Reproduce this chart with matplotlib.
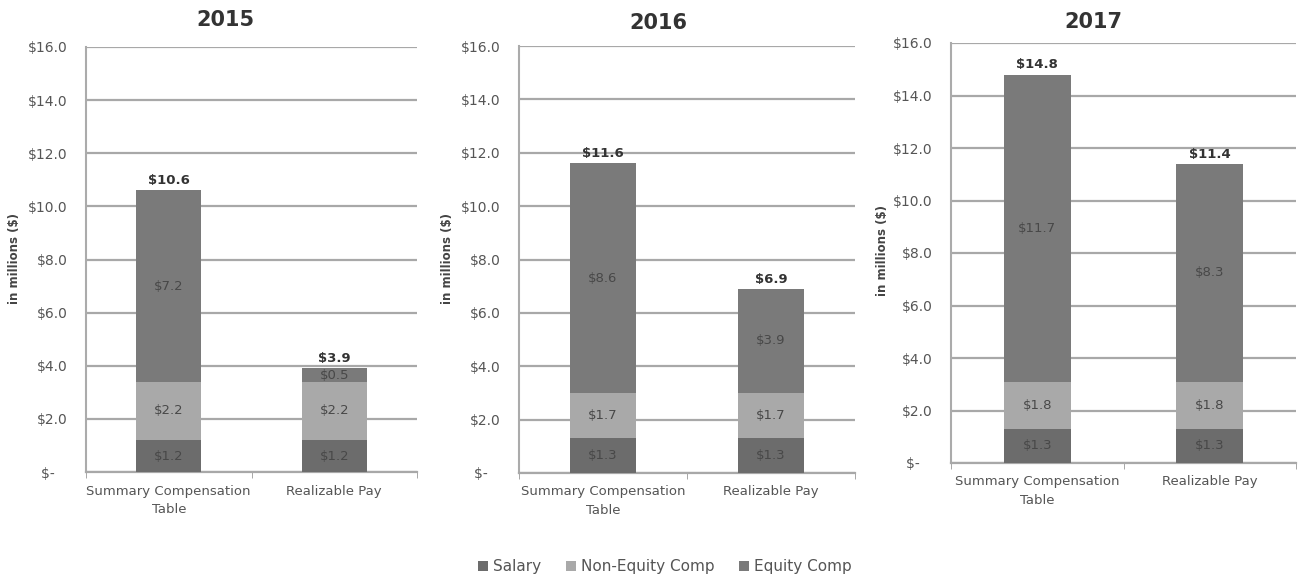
import matplotlib
matplotlib.use("Agg")
import matplotlib.pyplot as plt
import numpy as np
from matplotlib.patches import Patch

years = ["2015", "2016", "2017"]
categories = ["Summary Compensation\nTable", "Realizable Pay"]
series_names = ["Salary", "Non-Equity Comp", "Equity Comp"]
salary = [[1.2, 1.2], [1.3, 1.3], [1.3, 1.3]]
non_equity = [[2.2, 2.2], [1.7, 1.7], [1.8, 1.8]]
equity = [[7.2, 0.5], [8.6, 3.9], [11.7, 8.3]]
totals = [[10.6, 3.9], [11.6, 6.9], [14.8, 11.4]]
yticks = [0, 2, 4, 6, 8, 10, 12, 14, 16]
ytick_labels = ["$-   ", "$2.0", "$4.0", "$6.0", "$8.0", "$10.0", "$12.0", "$14.0", "$16.0"]

colors = ["#6c6c6c", "#a9a9a9", "#7a7a7a"]

W, H = 1301, 579
fig = plt.figure(figsize=(W / 100, H / 100), dpi=100)
fig.patch.set_facecolor("white")

# pixel boxes: (left, top, right, bottom)
boxes = [(86, 47, 417, 472), (519, 46, 855, 473), (951, 43, 1296, 463)]
title_pos = [(225, 20), (658, 23), (1093, 22)]
ylabel_pos = [(15, 259), (447, 258), (883, 250)]

for i, yr in enumerate(years):
    l, t, r, b = boxes[i]
    ax = fig.add_axes([l / W, 1 - b / H, (r - l) / W, (b - t) / H])
    x = np.arange(len(categories))
    bottoms = np.zeros(len(categories))
    for vals, col in zip([salary[i], non_equity[i], equity[i]], colors):
        vals = np.array(vals)
        ax.bar(x, vals, 0.39, bottom=bottoms, color=col, zorder=3)
        for xi, v, bo in zip(x, vals, bottoms):
            ax.text(xi, bo + v / 2, f"${v:.1f}", ha="center", va="center",
                    fontsize=9.5, color="#484848", zorder=4)
        bottoms = bottoms + vals
    for xi, tot in zip(x, totals[i]):
        ax.text(xi, tot + 0.12, f"${tot:.1f}", ha="center", va="bottom",
                fontsize=9.5, fontweight="bold", color="#333333", zorder=4)
    ax.set_xlim(-0.5, 1.5)
    ax.set_ylim(0, 16)
    ax.set_yticks(yticks)
    ax.set_yticklabels(ytick_labels, fontsize=10, color="#555555")
    ax.set_xticks(x)
    ax.set_xticklabels(categories, fontsize=9.5, color="#555555", linespacing=1.55)
    ax.tick_params(axis="x", which="major", length=0, pad=9)
    ax.set_xticks([-0.5, 0.5, 1.5], minor=True)
    ax.tick_params(axis="x", which="minor", length=4, color="#999999", direction="out")
    ax.tick_params(axis="y", length=0, pad=13)
    ax.yaxis.grid(True, color="#a8a8a8", linewidth=1.6, zorder=0)
    for s in ["top", "right"]:
        ax.spines[s].set_visible(False)
    ax.spines["left"].set_color("#ababab")
    ax.spines["left"].set_linewidth(1.5)
    ax.spines["bottom"].set_color("#a8a8a8")
    ax.spines["bottom"].set_linewidth(1.6)
    fig.text(title_pos[i][0] / W, 1 - title_pos[i][1] / H, yr, ha="center", va="center",
             fontsize=15, fontweight="bold", color="#333333")
    fig.text(ylabel_pos[i][0] / W, 1 - ylabel_pos[i][1] / H, "in millions ($)", rotation=90,
             ha="center", va="center", fontsize=8.5, fontweight="bold", color="#444444")

handles = [Patch(facecolor=c, edgecolor="none") for c in colors]
fig.legend(handles, series_names, loc="center", bbox_to_anchor=(665 / W, 1 - 567 / H),
           ncol=3, frameon=False, fontsize=11, handlelength=0.65, handleheight=0.65,
           handletextpad=0.35, columnspacing=1.6, labelcolor="#555555")

fig.savefig("out.png", dpi=100, facecolor="white")
